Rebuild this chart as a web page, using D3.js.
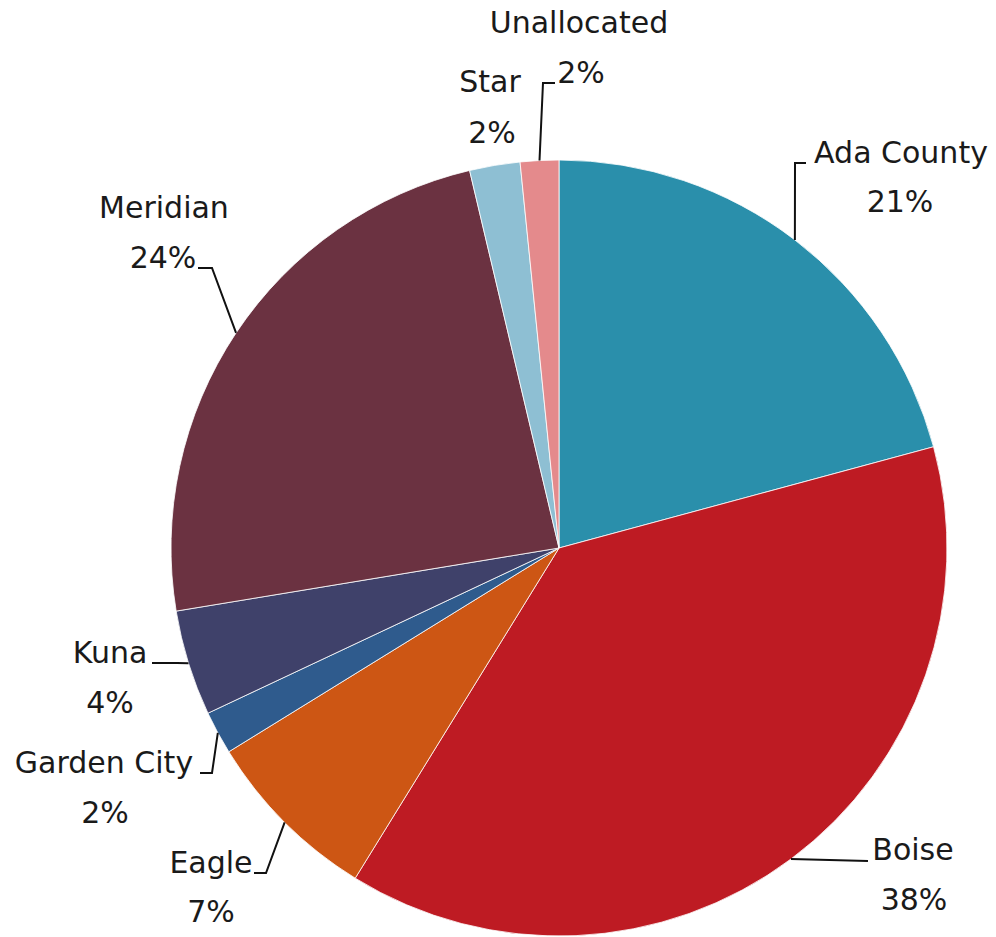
<!DOCTYPE html>
<html><head><meta charset="utf-8">
<script src="https://cdn.jsdelivr.net/npm/d3@7"></script>
<style>html,body{margin:0;padding:0;background:#fff;}svg{display:block;}</style>
</head><body>
<svg id="chart" width="996" height="937"></svg>
<script>
const categories = ["Ada County","Boise","Eagle","Garden City","Kuna","Meridian","Star","Unallocated"];
const values = [20.8, 38.0, 7.4, 1.8, 4.4, 23.9, 2.1, 1.6];
const colors = ["#2a8fab","#be1b23","#cd5614","#2f5b8d","#3f416a","#6b3241","#8ebfd3","#e48a8c"];

// layout (label positions and leader elbows)
const labelPos = [
  [[901,163],[900,212]],
  [[913,860],[914,910]],
  [[211,873],[211,922]],
  [[104,773],[105,823]],
  [[110,663],[110,713]],
  [[164,218],[163,268]],
  [[490,92],[492,143]],
  [[579,33],[581,83]]
];
const leaderPts = [
  [[795,163],[806,163]],
  [[868,861]],
  [[266,873],[254,873]],
  [[212,773],[200,773]],
  [[177,663],[152,663]],
  [[212,268],[198,268]],
  null,
  [[543,83],[555,83]]
];

const cx = 559, cy = 548, R = 388;
const svg = d3.select("#chart");
const g = svg.append("g").attr("transform", `translate(${cx},${cy})`);
const pie = d3.pie().value(d => d).sort(null);
const arcs = pie(values);
const arc = d3.arc().innerRadius(0).outerRadius(R);

g.selectAll("path.slice").data(arcs).enter().append("path")
  .attr("class","slice")
  .attr("d", arc)
  .attr("fill", (d,i) => colors[i])
  .attr("stroke", "#fff").attr("stroke-width", 0.8);

const pctFmt = v => Math.round(v / d3.sum(values) * 100) + "%";

arcs.forEach((d,i) => {
  const mid = (d.startAngle + d.endAngle) / 2;
  const sx = cx + R * Math.sin(mid), sy = cy - R * Math.cos(mid);
  if (leaderPts[i]) {
    const pts = [[sx,sy]].concat(leaderPts[i]);
    svg.append("path").attr("d", d3.line()(pts))
      .attr("fill","none").attr("stroke","#111").attr("stroke-width",2);
  }
  const lp = labelPos[i];
  svg.append("text").attr("x", lp[0][0]).attr("y", lp[0][1])
    .attr("text-anchor","middle").attr("font-family","DejaVu Sans, sans-serif")
    .attr("font-size", 30).attr("fill","#1a1a1a").text(categories[i]);
  svg.append("text").attr("x", lp[1][0]).attr("y", lp[1][1])
    .attr("text-anchor","middle").attr("font-family","DejaVu Sans, sans-serif")
    .attr("font-size", 30).attr("fill","#1a1a1a").text(pctFmt(values[i]));
});
</script>
</body></html>
